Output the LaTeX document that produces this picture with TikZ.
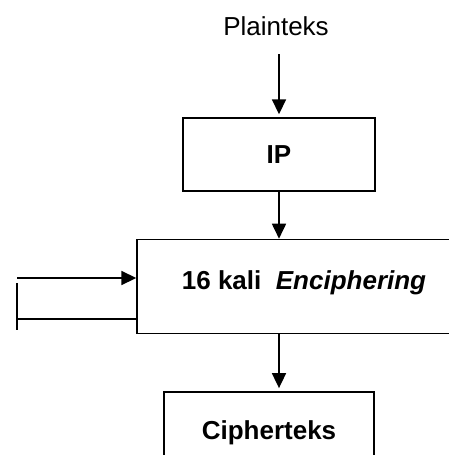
\documentclass[tikz,border=0pt]{standalone}
\usepackage{fontspec}
\setmainfont{Liberation Sans}
\usepackage{tikz}
\usetikzlibrary{arrows.meta, positioning}

\begin{document}
\begin{tikzpicture}[x=1pt, y=1pt,
  every node/.append style={font=\fontsize{26}{31}\selectfont},
  block/.style={rectangle, draw, line width=1.4pt, font=\fontsize{26}{31}\selectfont\bfseries, align=center},
  flow/.style={line width=1.8pt, -{Triangle[length=15pt, width=14pt]}},
  wire/.style={line width=1.4pt}
]
  \useasboundingbox (0,0) rectangle (449,-455);

  \node (plain) at (276,-26) {Plainteks};
  \node[block, minimum width=192pt, minimum height=73pt] (ip) at (279,-154.5) {IP};
  \node[block, below=47pt of ip, xshift=25pt, minimum width=334pt, minimum height=94pt, text depth=12pt] (enc) {16 kali~ \textit{Enciphering}};
  \node[block, below=57pt of enc, xshift=-35pt, minimum width=210pt, minimum height=82pt] (ciph) {Cipherteks};

  % main flow
  \draw[flow, shorten <=15pt, shorten >=3pt] (ip.north |- plain.south) -- (ip.north);
  \draw[flow] (ip.south) -- (ip.south |- enc.north);
  \draw[flow, shorten >=3pt] (ip.south |- enc.south) -- (ip.south |- ciph.north);

  % loop back into the rounds
  \coordinate (loopin) at (17,-278);
  \coordinate (loopout) at (17,-319);
  \coordinate (bartop) at (17,-283);
  \coordinate (barbot) at (17,-330);
  \draw[flow] (loopin) -- (loopin -| enc.west);
  \draw[wire] (loopout) -- (loopout -| enc.west);
  \draw[wire] (bartop) -- (barbot);
\end{tikzpicture}
\end{document}
